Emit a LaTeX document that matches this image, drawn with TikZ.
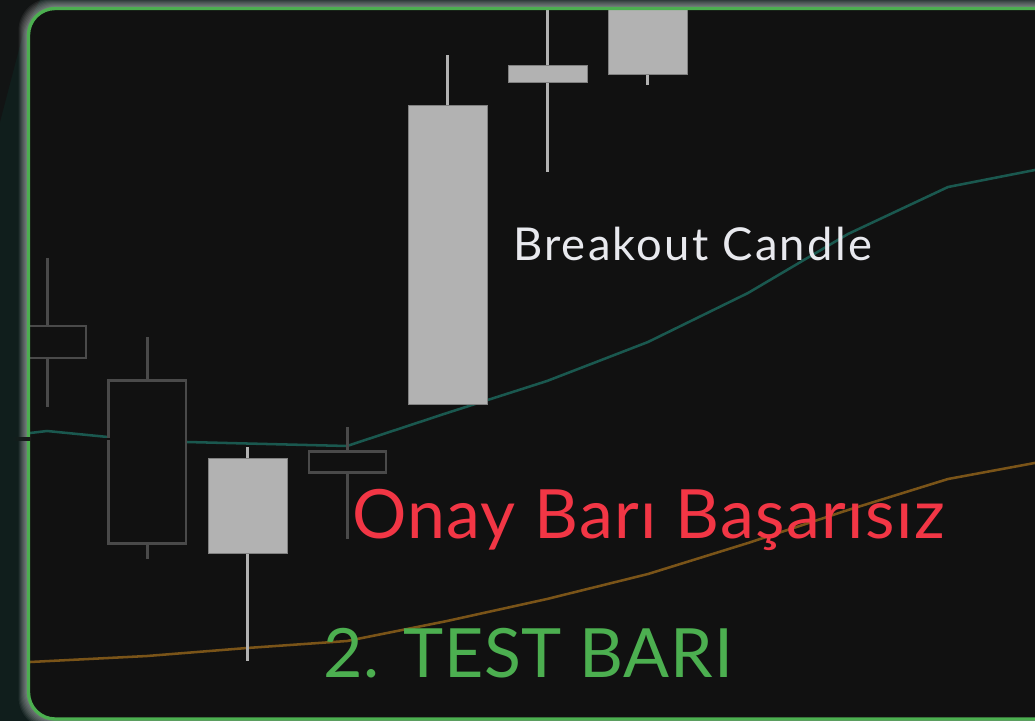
\documentclass[tikz,border=0pt]{standalone}
\usepackage{fontspec}
\setmainfont{Lato}
\definecolor{card}{HTML}{111111}
\definecolor{outer}{HTML}{101E1C}
\definecolor{outerdark}{HTML}{121414}
\definecolor{cardedge}{HTML}{4CAF50}
\definecolor{hollow}{HTML}{4A4A4A}
\definecolor{solid}{HTML}{B2B2B2}
\definecolor{solidedge}{HTML}{808080}
\definecolor{tealline}{HTML}{1A584F}
\definecolor{amberline}{HTML}{7A5418}
\definecolor{redtext}{HTML}{F23645}
\definecolor{greentext}{HTML}{4CAF50}
\definecolor{pale}{HTML}{E8E9EE}
\tikzset{
  x=0.75pt,y=-0.75pt,
  hollowbody/.style={draw=hollow,line width=1.9pt,fill=card},
  hollowwick/.style={draw=hollow,line width=2pt},
  solidbody/.style={fill=solid,draw=solidedge,line width=0.6pt},
  solidwick/.style={draw=solid,line width=2pt},
  ma/.style={line width=1.9pt,line join=round},
  lbl/.style={anchor=base west,inner sep=0pt,outer sep=0pt},
}
\begin{document}
\begin{tikzpicture}
\useasboundingbox (0,0) rectangle (1035,721);
\fill[outer] (0,0) rectangle (1035,721);
\fill[outerdark] (0,0) -- (0,122) -- (24,30) -- (40,0) -- cycle;
% glow
\foreach \g in {10,9,8,7,6,5,4,3,2,1}{
  \fill[white,opacity=0.062,rounded corners=24] (28.5-\g,8.5-\g) rectangle (1100,719+\g);
}
% card
\fill[card,rounded corners=20] (28.5,8.5) rectangle (1100,719);
\begin{scope}
\clip[rounded corners=20] (28.5,8.5) rectangle (1100,719);
% moving averages
\draw[ma,tealline] (30,433) -- (47,431) -- (108,437);
\draw[ma,tealline] (187,442) -- (347,446) -- (447,413) -- (547,381) -- (648,342) -- (748,293) -- (848,234) -- (948,187) -- (1040,169);
\draw[ma,amberline] (30,662) -- (147,656) -- (247,648) -- (347,641) -- (447,621) -- (547,599) -- (648,574) -- (748,543) -- (848,510) -- (948,479) -- (1040,462);
% hollow candles
\coordinate (w1t) at (47.5,258); \coordinate (w1b) at (47.5,407);
\draw[hollowwick] (w1t) -- (w1b);
\draw[hollowbody] (20,326) rectangle (86,358);
\coordinate (w2t) at (147.5,337); \coordinate (w2b) at (147.5,559);
\draw[hollowwick] (w2t) -- (w2b);
\draw[hollowbody] (108.5,380.5) rectangle (186,543.5);
\coordinate (w3t) at (347.5,427); \coordinate (w3b) at (347.5,539);
\draw[hollowwick] (w3t) -- (w3b);
\draw[hollowbody] (309,451.5) rectangle (386,472.5);
% gap in the hollow candle edge
\draw[card,line width=2.2pt] (100,439) -- (111,439);
% solid candles
\coordinate (s1t) at (247.5,447); \coordinate (s1b) at (247.5,661);
\draw[solidwick] (s1t) -- (s1b);
\draw[solidbody] (208,458) rectangle (287.5,553);
\coordinate (s2t) at (447.5,55); \coordinate (s2b) at (447.5,405);
\draw[solidwick] (s2t) -- (s2b);
\draw[solidbody] (408,105.5) rectangle (487.5,404.5);
\coordinate (s3t) at (547.5,0); \coordinate (s3b) at (547.5,172);
\draw[solidwick] (s3t) -- (s3b);
\draw[solidbody] (508,65.5) rectangle (587.5,82.5);
\coordinate (s4t) at (647.5,0); \coordinate (s4b) at (647.5,85);
\draw[solidwick] (s4t) -- (s4b);
\draw[solidbody] (608,0) rectangle (687.5,74.5);
\end{scope}
\draw[cardedge,line width=2.5pt,rounded corners=20] (28.5,8.5) rectangle (1100,719);
% dark stripe through the edge, fading out to the left
\shade[left color=outer,right color=black!90!white] (12,437.5) rectangle (31,440.5);
% labels
\node[lbl,text=pale,font=\fontsize{34}{40}\selectfont\addfontfeature{LetterSpace=5}] (breakout) at (513,260) {Breakout Candle};
\node[lbl,text=redtext,font=\fontsize{51}{60}\selectfont\addfontfeature{LetterSpace=2}] (fail) at (352,538) {Onay Barı Başarısız};
\node[lbl,text=greentext,font=\fontsize{51}{60}\selectfont\addfontfeature{LetterSpace=1}] (test) at (323,677) {2. TEST BARI};
\end{tikzpicture}
\end{document}
